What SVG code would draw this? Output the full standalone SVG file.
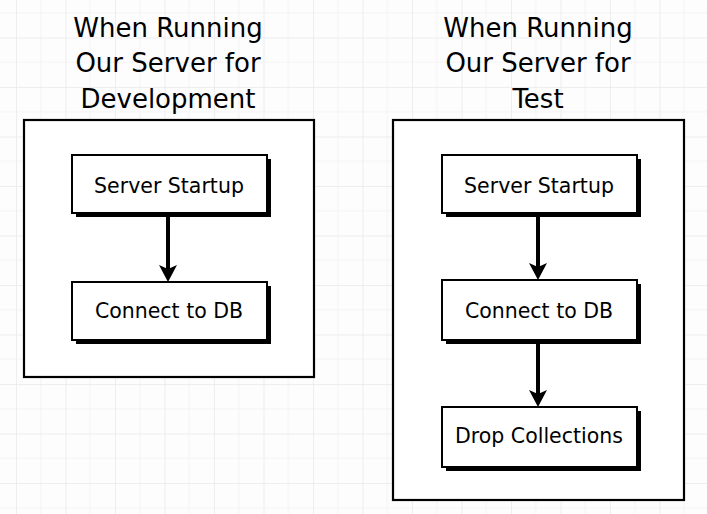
<svg xmlns="http://www.w3.org/2000/svg" width="707" height="514" viewBox="0 0 707 514">
  <defs>
    <pattern id="grid" x="16" y="37.5" width="49.5" height="49.5" patternUnits="userSpaceOnUse">
      <path d="M24.75 0V49.5M0 24.75H49.5" stroke="#f4f4f6" stroke-width="1" fill="none"/>
      <path d="M0 0V49.5M0 0H49.5" stroke="#e9e9eb" stroke-width="1.5" fill="none"/>
    </pattern>
    <!-- filled arrowhead, tip 10 units past the end of the line -->
    <marker id="head" viewBox="0 0 17 18" refX="7" refY="9" markerWidth="17" markerHeight="18" markerUnits="userSpaceOnUse" orient="auto">
      <path d="M0 0L17 9L0 18L4 9Z" fill="#000"/>
    </marker>
  </defs>
  <style>
    .title { font-family: "DejaVu Sans", sans-serif; font-size: 26px; fill: #000; text-anchor: middle; }
    .label { font-family: "DejaVu Sans", sans-serif; font-size: 20.5px; fill: #000; text-anchor: middle; }
    .frame { fill: #fff; stroke: #000; stroke-width: 2.2; }
    .shadow { fill: #000; }
    .box { fill: #fff; stroke: #000; stroke-width: 2; }
    .edge { stroke: #000; stroke-width: 4; fill: none; }
  </style>

  <rect width="707" height="514" fill="#fdfdfe"/>
  <rect width="707" height="514" fill="url(#grid)"/>

  <!-- Development column -->
  <g id="dev-title">
    <text class="title" x="168" y="37">When Running</text>
    <text class="title" x="168" y="72">Our Server for</text>
    <text class="title" x="168" y="108">Development</text>
  </g>
  <g id="dev-frame">
    <rect class="frame" x="24" y="120" width="290" height="257"/>
  </g>
  <g id="dev-startup">
    <rect class="shadow" x="76" y="159" width="195" height="58"/>
    <rect class="box" x="72" y="155" width="195" height="58"/>
    <text class="label" x="169" y="193">Server Startup</text>
  </g>
  <g id="dev-connect">
    <rect class="shadow" x="76" y="286" width="195" height="58"/>
    <rect class="box" x="72" y="282" width="195" height="58"/>
    <text class="label" x="169" y="318">Connect to DB</text>
  </g>

  <!-- Test column -->
  <g id="test-title">
    <text class="title" x="538" y="37">When Running</text>
    <text class="title" x="538" y="72">Our Server for</text>
    <text class="title" x="538" y="108">Test</text>
  </g>
  <g id="test-frame">
    <rect class="frame" x="393" y="120" width="291" height="380"/>
  </g>
  <g id="test-startup">
    <rect class="shadow" x="446" y="159" width="195" height="58"/>
    <rect class="box" x="442" y="155" width="195" height="58"/>
    <text class="label" x="539" y="193">Server Startup</text>
  </g>
  <g id="test-connect">
    <rect class="shadow" x="446" y="284" width="195" height="60"/>
    <rect class="box" x="442" y="280" width="195" height="60"/>
    <text class="label" x="539" y="318">Connect to DB</text>
  </g>
  <g id="test-drop">
    <rect class="shadow" x="446" y="411" width="195" height="60"/>
    <rect class="box" x="442" y="407" width="195" height="60"/>
    <text class="label" x="539" y="443">Drop Collections</text>
  </g>

  <!-- Connectors -->
  <g id="connectors">
    <path class="edge" d="M168 215V272" marker-end="url(#head)"/>
    <path class="edge" d="M538 215V270" marker-end="url(#head)"/>
    <path class="edge" d="M538 342V397" marker-end="url(#head)"/>
  </g>
</svg>
